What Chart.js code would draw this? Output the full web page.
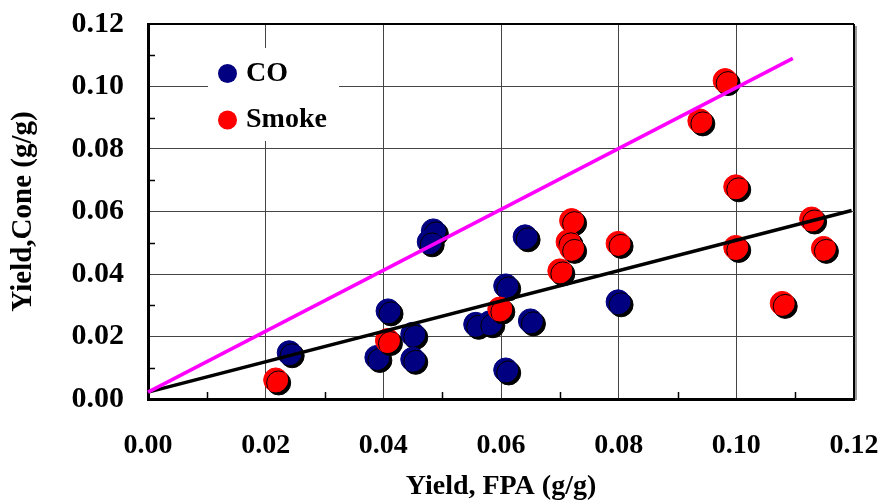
<!DOCTYPE html>
<html>
<head>
<meta charset="utf-8">
<script src="https://cdn.jsdelivr.net/npm/chart.js@4/dist/chart.umd.min.js"></script>
<style>
    html, body { margin: 0; padding: 0; background: #fff; }
    #wrap { width: 881px; height: 504px; position: relative; }
</style>
</head>
<body>
<div id="wrap"><canvas id="chart"></canvas></div>
<script>
// ---- Dados ----
const coX = [0.0240, 0.0408, 0.0389, 0.0450, 0.0450, 0.0485, 0.0478, 0.0557, 0.0581, 0.0608, 0.0641, 0.0650, 0.0608, 0.0799];
const coY = [0.0148, 0.0282, 0.0133, 0.0207, 0.0127, 0.0538, 0.0503, 0.0239, 0.0244, 0.0362, 0.0519, 0.0250, 0.0093, 0.0311];

const smokeX = [0.0217, 0.0407, 0.0598, 0.0720, 0.0714, 0.0720, 0.0700, 0.0799, 0.0938, 0.0981, 0.0999, 0.0999, 0.1078, 0.1128, 0.1148];
const smokeY = [0.0061, 0.0187, 0.0288, 0.0571, 0.0503, 0.0482, 0.0410, 0.0498, 0.0890, 0.1019, 0.0679, 0.0485, 0.0306, 0.0576, 0.0482];

// linhas de tendência (pontos extremos)
const magentaX = [0.0, 0.1096];
const magentaY = [0.0022, 0.1090];
const blackX = [0.0, 0.1196];
const blackY = [0.0022, 0.0603];

const xTicks = [0.00, 0.02, 0.04, 0.06, 0.08, 0.10, 0.12];
const yTicks = [0.00, 0.02, 0.04, 0.06, 0.08, 0.10, 0.12];
const minorTicks = [0.01, 0.03, 0.05, 0.07, 0.09, 0.11];

const FONT = '"Liberation Serif", "Times New Roman", serif';
const toPts = (xs, ys) => xs.map((x, i) => ({ x, y: ys[i] }));

// Sombra preta deslocada sob os marcadores
const shadowPlugin = {
    id: 'shadow',
    beforeDatasetDraw(chart, args) {
        const ds = chart.data.datasets[args.index];
        if (!ds.shadow) return;
        const ctx = chart.ctx;
        ctx.save();
        ctx.shadowColor = '#000';
        ctx.shadowOffsetX = 3;
        ctx.shadowOffsetY = 3;
        ctx.shadowBlur = 0;
    },
    afterDatasetDraw(chart, args) {
        const ds = chart.data.datasets[args.index];
        if (ds.shadow) chart.ctx.restore();
    }
};

// Moldura, ticks menores e legenda dentro da área
const framePlugin = {
    id: 'frame',
    beforeDatasetsDraw(chart) {
        const { ctx, chartArea: a, scales: { x, y } } = chart;
        ctx.save();

        // sombra cinza da moldura
        ctx.strokeStyle = '#9a9a9a';
        ctx.lineWidth = 2;
        ctx.beginPath();
        ctx.moveTo(a.right + 2, a.top + 2);
        ctx.lineTo(a.right + 2, a.bottom + 1);
        ctx.stroke();

        // ticks menores (para dentro)
        ctx.strokeStyle = '#000';
        ctx.lineWidth = 1.5;
        minorTicks.forEach(v => {
            const px = Math.round(x.getPixelForValue(v)) + 0.5;
            ctx.beginPath();
            ctx.moveTo(px, a.bottom);
            ctx.lineTo(px, a.bottom - 7);
            ctx.stroke();
            const py = Math.round(y.getPixelForValue(v)) + 0.5;
            ctx.beginPath();
            ctx.moveTo(a.left, py);
            ctx.lineTo(a.left + 7, py);
            ctx.stroke();
        });

        // legenda
        ctx.fillStyle = '#fff';
        ctx.fillRect(208, 48, 131, 93);
        ctx.font = `bold 28px ${FONT}`;
        ctx.textBaseline = 'middle';
        const items = chart.data.datasets.filter(d => d.shadow);
        items.forEach((d, i) => {
            const cy = 73.5 + i * 46.5;
            ctx.fillStyle = d.backgroundColor;
            ctx.beginPath();
            ctx.arc(227.5, cy, 9.5, 0, Math.PI * 2);
            ctx.fill();
            ctx.fillStyle = '#000';
            ctx.fillText(d.label, 246, cy);
        });
        ctx.restore();
    }
};

const gridColor = (edge) => (c) => (c.tick && c.tick.value > edge - 1e-6 ? '#000' : '#444');
const gridWidth = (edge) => (c) => (c.tick && c.tick.value > edge - 1e-6 ? 2 : 1);

new Chart(document.getElementById('chart'), {
    type: 'scatter',
    data: {
        datasets: [
            {
                label: 'CO', data: toPts(coX, coY), shadow: true, order: 2,
                backgroundColor: '#000080', borderColor: '#000080', borderWidth: 1, pointRadius: 12
            },
            {
                label: 'Smoke', data: toPts(smokeX, smokeY), shadow: true, order: 1,
                backgroundColor: '#FF0000', borderColor: '#FF0000', borderWidth: 1, pointRadius: 12
            },
            {
                label: 'fit-magenta', data: toPts(magentaX, magentaY), showLine: true, order: 0,
                borderColor: '#FF00FF', borderWidth: 3.5, pointRadius: 0, clip: false
            },
            {
                label: 'fit-black', data: toPts(blackX, blackY), showLine: true, order: 0,
                borderColor: '#000', borderWidth: 3.5, pointRadius: 0, clip: false
            }
        ]
    },
    options: {
        responsive: true, maintainAspectRatio: false, animation: false,
        layout: { padding: { top: 24, right: 27, left: 0, bottom: 0 } },
        plugins: { legend: { display: false }, tooltip: { enabled: false } },
        scales: {
            x: {
                type: 'linear', min: 0, max: 0.12,
                afterBuildTicks: s => { s.ticks = xTicks.map(v => ({ value: v })); },
                afterFit: s => { s.height = 105; s.paddingLeft = 0; s.paddingRight = 0; },
                grid: { color: gridColor(0.12), lineWidth: gridWidth(0.12), drawTicks: false },
                border: { display: true, color: '#000', width: 3 },
                ticks: {
                    padding: 30, color: '#000',
                    font: { family: FONT, size: 28, weight: 'bold', lineHeight: 1.2 },
                    callback: v => Number(v).toFixed(2)
                },
                title: {
                    display: true, text: 'Yield, FPA (g/g)', color: '#000',
                    font: { family: FONT, size: 28, weight: 'bold', lineHeight: 1.2 },
                    padding: { top: 0, bottom: 0 }
                }
            },
            y: {
                type: 'linear', min: 0, max: 0.12,
                afterBuildTicks: s => { s.ticks = yTicks.map(v => ({ value: v })); },
                afterFit: s => { s.width = 148; s.paddingTop = 0; s.paddingBottom = 0; },
                grid: { color: gridColor(0.12), lineWidth: gridWidth(0.12), drawTicks: false },
                border: { display: true, color: '#000', width: 3 },
                ticks: {
                    padding: 24, color: '#000',
                    font: { family: FONT, size: 30, weight: 'bold', lineHeight: 1.2 },
                    callback: v => Number(v).toFixed(2)
                },
                title: {
                    display: true, text: 'Yield,Cone (g/g)', color: '#000',
                    font: { family: FONT, size: 29, weight: 'bold', lineHeight: 1.2 },
                    padding: { top: 6, bottom: 0 }
                }
            }
        }
    },
    plugins: [shadowPlugin, framePlugin]
});
</script>
</body>
</html>
